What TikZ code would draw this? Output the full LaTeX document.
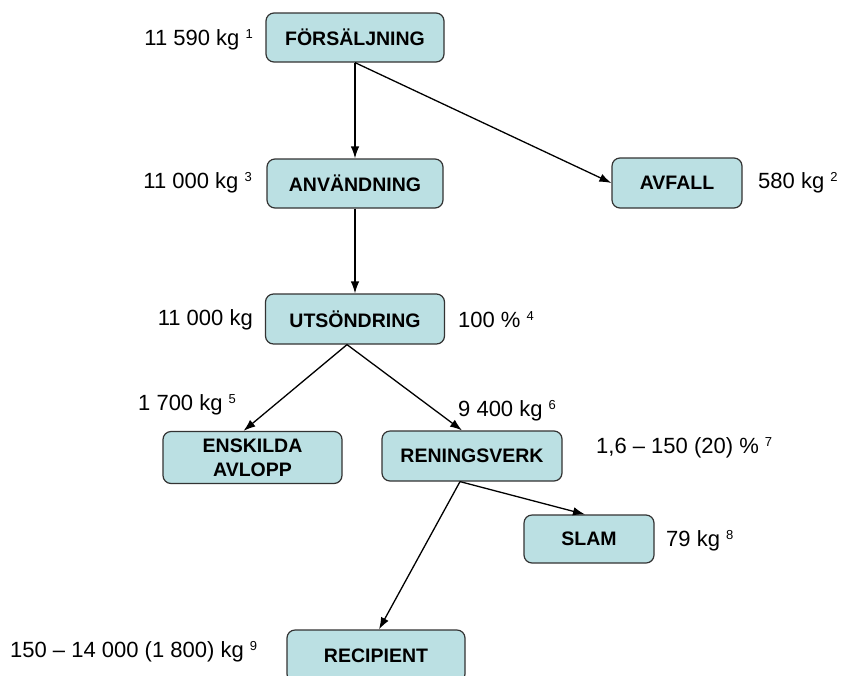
\documentclass[tikz,border=0pt]{standalone}
\usepackage{fontspec}
\setmainfont{Liberation Sans}
\usetikzlibrary{arrows.meta,calc}
\definecolor{boxfill}{HTML}{BBE0E3}
\definecolor{boxline}{HTML}{333333}
\newcommand\supr[1]{\raisebox{0.6ex}{\fontsize{13}{14}\selectfont #1}}
\begin{document}
\begin{tikzpicture}[x=1pt,y=-1pt,
  box/.style={draw=boxline,fill=boxfill,rounded corners=8pt,line width=1.2pt,
    font=\fontsize{19.5}{23}\selectfont\bfseries,align=center,inner sep=0pt,
    minimum width=178pt,minimum height=49pt},
  lbl/.style={font=\fontsize{22}{26}\selectfont,inner sep=0pt},
  arr/.style={line width=1.3pt,-{Latex[length=12pt,width=8.5pt]}}]
\useasboundingbox (0,0) rectangle (842,675);
\begin{scope}
\clip (0,0) rectangle (842,675);
\node[box] (fors) at (355,37.5) {FÖRSÄLJNING};
\node[box,minimum width=176pt] (anv) at (355,183.5) {ANVÄNDNING};
\node[box,minimum width=130pt,minimum height=50pt] (avf) at (677,183) {AVFALL};
\node[box,minimum width=179pt,minimum height=50pt] (uts) at (355,319) {UTSÖNDRING};
\node[box,minimum width=179pt,minimum height=52pt,font=\fontsize{19.5}{24}\selectfont\bfseries] (ensk) at (252.5,457.5) {ENSKILDA\\AVLOPP};
\node[box,minimum width=180pt,minimum height=50pt] (ren) at (472,456) {RENINGSVERK};
\node[box,minimum width=130pt,minimum height=48pt] (slam) at (589,539) {SLAM};
\node[box,minimum width=178pt,minimum height=52pt] (rec) at (376,656) {RECIPIENT};
\end{scope}

\draw[arr] (fors.south) -- (anv.north);
\draw[arr] (fors.south) -- (avf.west);
\draw[arr] (anv.south) -- (uts.north);
\draw[arr] ($(uts.south)+(-8,0)$) -- ($(ensk.north)+(-9,0)$);
\draw[arr] ($(uts.south)+(-8,0)$) -- ($(ren.north)+(-10,0)$);
\draw[arr] ($(ren.south)+(-12,0)$) -- ($(slam.north)+(-4,0)$);
\draw[arr] ($(ren.south)+(-12,0)$) -- ($(rec.north)+(3,0)$);

\node[lbl,anchor=east] (l1) at (253,40) {11 590 kg \supr{1}};
\node[lbl,anchor=east] (l3) at (252,183) {11 000 kg \supr{3}};
\node[lbl,anchor=west] (l2) at (758,183) {580 kg \supr{2}};
\node[lbl,anchor=east] (l0) at (253,320) {11 000 kg};
\node[lbl,anchor=west] (l4) at (458,320) {100 \% \supr{4}};
\node[lbl,anchor=west] (l5) at (138,405) {1 700 kg \supr{5}};
\node[lbl,anchor=west] (l6) at (458,411) {9 400 kg \supr{6}};
\node[lbl,anchor=west] (l7) at (596,448) {1,6 – 150 (20) \% \supr{7}};
\node[lbl,anchor=west] (l8) at (666,541) {79 kg \supr{8}};
\node[lbl,anchor=west] (l9) at (10,652) {150 – 14 000 (1 800) kg \supr{9}};
\end{tikzpicture}
\end{document}
